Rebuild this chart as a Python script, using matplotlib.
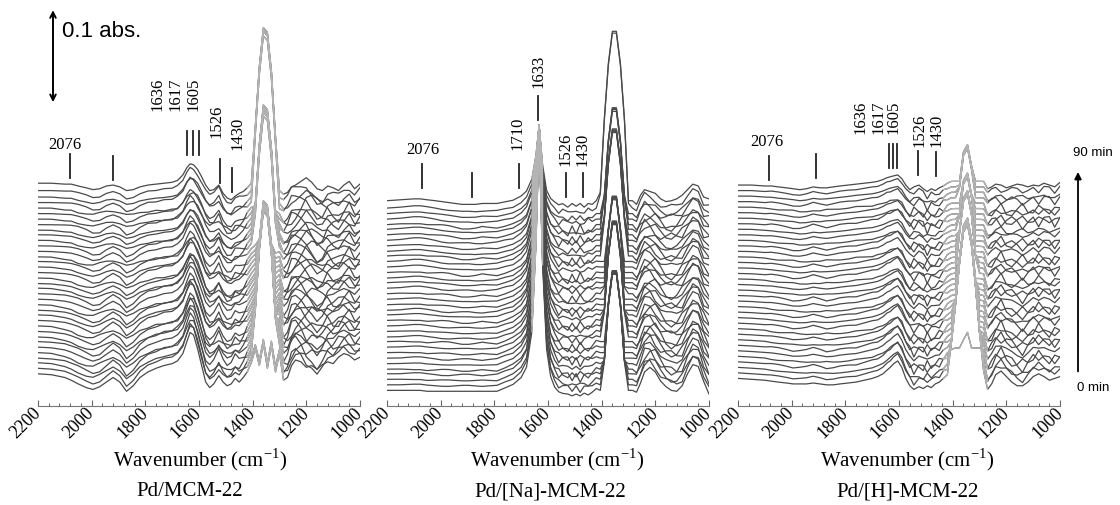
import numpy as np
import matplotlib
matplotlib.use("Agg")
import matplotlib.pyplot as plt
from matplotlib.ticker import MultipleLocator

plt.rcParams['font.family'] = ['Liberation Serif', 'DejaVu Serif']
plt.rcParams['mathtext.fontset'] = 'custom'
plt.rcParams['mathtext.rm'] = 'Liberation Serif'

# knot wavenumbers (cm-1) shared by all spectra
WN = np.array([2200, 2150, 2100, 2076, 2050, 2020, 1995, 1970, 1945, 1920,
               1895, 1870, 1845, 1820, 1790, 1760, 1730, 1700, 1680, 1660,
               1645, 1633, 1620, 1605, 1590, 1575, 1560, 1545, 1526, 1510,
               1495, 1480, 1465, 1450, 1435, 1420, 1405, 1390, 1375, 1360,
               1345, 1330, 1315, 1300, 1285, 1270, 1255, 1240, 1220, 1200,
               1180, 1160, 1140, 1120, 1100, 1080, 1060, 1040, 1020, 1000])

# how far each of the 36 spectra (0 -> 90 min) is from the first to the last shape
MIX = [0.0, 0.05, 0.08, 0.12, 0.15, 0.2, 0.22, 0.26, 0.3, 0.33, 0.36, 0.4,
       0.42, 0.45, 0.5, 0.52, 0.55, 0.58, 0.6, 0.63, 0.66, 0.7, 0.72, 0.75,
       0.78, 0.8, 0.83, 0.85, 0.88, 0.9, 0.92, 0.94, 0.96, 0.97, 0.99, 1.0]
WIGGLE = [0.0, 0.6, -0.4, 0.9, -0.8, 0.3, 1.0, -0.6, 0.5, -1.0, 0.8, -0.2,
          0.7, -0.9, 0.4, 1.0, -0.5, 0.2, -0.8, 0.9, -0.3, 0.6, -1.0, 0.5,
          0.8, -0.7, 0.3, -0.4, 1.0, -0.6, 0.4, -0.9, 0.7, -0.2, 0.5, 0.0]

# ---- Pd/MCM-22 (absorbance in mAU) ----
P1_OFFSET = [35, 41, 47, 52, 58, 64, 70, 75, 81, 87, 93, 99, 104, 110, 116, 122, 128, 133,
             139, 145, 151, 157, 162, 168, 174, 180, 186, 191, 197, 203, 209, 215, 221, 227, 234, 242]
P1_EARLY = [0, -1, -4, -7, -11, -15, -17, -14, -9, -4,
            -9, -19, -13, -4, 2, 6, 9, 11, 14, 22,
            35, 45, 42, 27, 9, -9, -15, -11, -2, -9,
            -13, -11, -5, -9, -4, 2, 12, 27, 9, 33,
            6, 31, 2, 22, -7, -4, 9, 15, 13, 7,
            9, 5, 10, 13, 11, 18, 22, 20, 15, 18]
P1_LATE = [0, 0, -1, -1, -3, -5, -7, -6, -3, -2,
           -4, -8, -7, -4, -2, -1, 0, 1, 3, 9,
           17, 21, 20, 15, 7, -2, -8, -7, -2, -11,
           -16, -18, -14, -11, -9, -5, 0, 0, 0, 0,
           0, 0, -3, -8, -12, -10, -4, -2, 2, 6,
           1, -6, -8, -3, -5, -8, -2, 2, -6, -1]
P1_NOISE = [0, 0, 1, 1, 2, 1, -1, -2, 0, 2,
            1, -2, -1, 1, 3, 2, 4, 3, 5, 4,
            6, 8, 5, 2, 3, 6, 8, 10, 14, 9,
            6, 8, 12, 10, 6, 0, 0, 0, 0, 0,
            0, 0, 0, 0, 4, 10, 16, 12, 4, -6,
            -14, -18, -12, -2, 6, 10, 4, -4, 2, 8]
# depth of the ~1355 band contour below its apex
P1_DROP = [999] * 34 + [500, 330, 200, 110, 45, 3, 8, 50, 120, 220, 350, 500] + [999] * 14
P1_APEX = [0, 0, 214, 216, 218, 219, 220, 218, 217, 221, 219, 218, 220, 222, 219, 218, 221, 220,
           219, 223, 221, 222, 224, 226, 318, 322, 325, 327, 326, 328, 330, 327, 405, 410, 412, 414]

# ---- Pd/[Na]-MCM-22 ----
P2_OFFSET = [17, 23, 29, 35, 40, 46, 52, 58, 64, 70, 75, 81, 87, 93, 99, 104, 110, 116,
             122, 128, 134, 139, 145, 151, 157, 163, 168, 174, 180, 186, 192, 197, 203, 209, 215, 223]
P2_EARLY = [0, 0, 0, 0, -1, -1, -1, -1, -1, -1,
            -1, -1, -1, -1, -1, 0, 1, 3, 6, 9,
            6, 2, 0, -2, -4, -6, -7, -6, -4, -6,
            -4, -6, -3, -5, -2, 2, 0, 0, 0, 0,
            0, 0, 0, 0, 0, -2, 8, 20, 25, 20,
            10, 4, 0, -1, 5, 18, 28, 26, 10, -4]
P2_LATE = [0, 1, 2, 2, 1, 0, -1, -2, -3, -4,
           -4, -4, -3, -3, -3, -2, -1, 2, 5, 8,
           6, 4, 0, -2, -3, -4, -6, -4, -7, -3,
           -6, -3, -7, -3, -4, 0, 0, 0, 0, 0,
           0, 0, 0, 0, 0, -4, 6, 12, 10, 8,
           2, -1, 0, 2, 6, 12, 18, 16, 4, 2]
P2_NOISE = [0, 0, 1, 1, 1, 0, -1, -1, 0, 1,
            1, 0, -1, 0, 1, 1, 0, 1, 2, 2,
            0, 0, 0, 2, 4, 2, -3, 4, 6, -2,
            5, -4, 3, 6, 2, 0, 0, 0, 0, 0,
            0, 0, 0, 0, 0, 2, 6, 10, 4, -4,
            -2, 5, 8, 3, -3, 2, 6, 4, -2, 3]
# 1633 band: relative shape, scaled up to a common apex
P2_PEAK = [0] * 15 + [0.01, 0.02, 0.04, 0.07, 0.2, 0.55, 1.0, 0.5, 0.17, 0.07, 0.035, 0.02, 0.01] + [0] * 32
P2_PEAK_APEX = [292, 294, 295, 296, 297, 298, 298, 299, 300, 300, 301, 301, 302, 302, 302, 303, 303, 303,
                304, 304, 304, 304, 305, 305, 305, 305, 305, 305, 305, 305, 305, 305, 305, 305, 305, 305]
P2_DROP = [999] * 34 + [520, 320, 180, 100, 40, 5, 5, 40, 100, 190, 330, 520] + [999] * 14
P2_APEX = [148, 149, 150, 150, 151, 149, 152, 150, 151, 152,
           202, 203, 204, 203, 205, 204, 206, 205,
           229, 230, 231, 232, 231, 233, 232,
           302, 303, 304, 305, 306, 325, 327, 328, 329, 410, 412]

# ---- Pd/[H]-MCM-22 ----
P3_OFFSET = [30, 36, 42, 48, 54, 60, 66, 72, 78, 84, 90, 96, 102, 108, 114, 120, 126, 132,
             138, 144, 150, 156, 162, 168, 174, 180, 186, 192, 198, 204, 210, 216, 222, 228, 234, 240]
P3_EARLY = [0, -1, -2, -3, -4, -5, -6, -6, -6, -5,
            -6, -7, -7, -6, -5, -4, -2, 0, 2, 5,
            9, 12, 16, 19, 12, 0, -8, -12, -9, -11,
            -8, -10, -6, -4, 0, 4, 8, 10, 10, 10,
            10, 10, 10, 10, 8, -12, -6, 4, 8, 2,
            -4, -8, -8, -4, 2, 5, 2, -2, 0, 2]
P3_LATE = [0, 0, -1, -1, -2, -3, -4, -5, -4, -2,
           -3, -3, -2, -1, 0, 1, 2, 3, 4, 6,
           8, 9, 10, 11, 7, 0, -5, -2, 0, -4,
           -7, -4, -6, -3, -1, 2, 4, 4, 4, 4,
           4, 4, 4, 4, 4, -4, -2, 1, 0, -3,
           -1, 1, 0, -2, 0, -1, 2, 0, -2, 3]
P3_NOISE = [0, 0, 0, 1, 1, 0, -1, 0, 1, 2,
            1, -1, 0, 1, 1, 0, 1, 2, 1, 2,
            3, 2, 3, 4, 2, 4, 6, -3, 5, 7,
            -4, 5, 3, -2, 4, 0, 0, 0, 0, 0,
            0, 0, 0, 0, 0, 4, 8, 5, -4, 6,
            9, 3, -5, 4, 7, -3, 5, 8, -2, 4]
P3_DROP = [999] * 33 + [600, 300, 185, 130, 90, 45, 10, 2, 25, 70, 120, 170, 280, 600] + [999] * 13
P3_APEX = [199, 200, 201, 200, 82,
           200, 201, 202, 203, 202, 204, 203, 205, 204, 206, 205, 204, 206,
           232, 233, 234, 233, 235, 234, 236, 235,
           251, 252, 253, 254, 253, 255, 282, 283, 285, 286]

# band markers: (wavenumber, bottom in mAU) and labels: (text, wavenumber, y, rotation)
P1_MARKS = [(2081, 248), (1920, 246), (1645, 273), (1622, 273), (1600, 273), (1522, 242), (1477, 232)]
P1_TEXTS = [("2076", 2099, 284, 0), ("1636", 1753, 339, 90), ("1617", 1686, 339, 90),
            ("1605", 1622, 339, 90), ("1526", 1533, 309, 90), ("1430", 1458, 296, 90)]
P2_MARKS = [(2070, 237), (1883, 227), (1708, 237), (1637, 311), (1533, 227), (1470, 227)]
P2_TEXTS = [("2076", 2066, 278, 0), ("1710", 1712, 296, 90), ("1633", 1637, 364, 90),
            ("1526", 1533, 279, 90), ("1430", 1470, 279, 90)]
P3_MARKS = [(2084, 246), (1909, 248), (1637, 259), (1622, 259), (1607, 259), (1529, 251), (1462, 250)]
P3_TEXTS = [("2076", 2092, 287, 0), ("1636", 1742, 314, 90), ("1617", 1678, 314, 90),
            ("1605", 1619, 314, 90), ("1526", 1525, 300, 90), ("1430", 1462, 299, 90)]

DARK = '#4a4a4a'
LIGHT = '#b4b4b4'


def traces(offset, early, late, noise, peaks=(), bands=()):
    early, late, noise = np.array(early), np.array(late), np.array(noise)
    out = []
    for i in range(len(offset)):
        y = offset[i] + (1 - MIX[i]) * early + MIX[i] * late + WIGGLE[i] * noise
        for shape, apex in peaks:
            shape = np.array(shape)
            k = np.argmax(shape)
            y = y + max(apex[i] - y[k], 0) * shape
        for drop, apex in bands:
            y = np.maximum(y, apex[i] - np.array(drop))
        out.append(y)
    return out


def panel(rect, spectra, light, marks, texts, name, xlab_x, name_x):
    ax = fig.add_axes(rect)
    for y in spectra:
        ax.plot(WN, y, color=DARK, lw=0.9, zorder=2)
    for lo, hi in light:
        m = (WN >= lo) & (WN <= hi)
        for y in spectra:
            ax.plot(WN[m], y[m], color=LIGHT, lw=0.9, zorder=3)
    for wn, y0 in marks:
        ax.plot([wn, wn], [y0, y0 + 26], color='#222222', lw=1.3)
    for t, wn, y, rot in texts:
        ax.text(wn, y, t, rotation=rot, ha='center', va='center', fontsize=12)
    ax.set_xlim(2200, 1000)
    ax.set_ylim(0, 441)
    ax.set_xticks(np.arange(2200, 999, -200))
    ax.xaxis.set_minor_locator(MultipleLocator(40))
    ax.tick_params(axis='x', which='major', direction='in', length=4, width=0.8,
                   color='#666666', labelsize=13, pad=3)
    ax.tick_params(axis='x', which='minor', direction='in', length=2.5, width=0.7, color='#666666')
    ax.set_yticks([])
    for s in ['left', 'right', 'top']:
        ax.spines[s].set_visible(False)
    ax.spines['bottom'].set_color('#777777')
    plt.setp(ax.get_xticklabels(), rotation=45, ha='right', va='center', rotation_mode='anchor')
    ax.patch.set_alpha(0)
    fig.text(xlab_x, 0.089, 'Wavenumber (cm$^{\\mathregular{-1}}$)', ha='center', va='center', fontsize=15)
    fig.text(name_x, 0.026, name, ha='center', va='center', fontsize=15)
    return ax


fig = plt.figure(figsize=(11.2, 5.05), dpi=100)

s1 = traces(P1_OFFSET, P1_EARLY, P1_LATE, P1_NOISE, bands=[(P1_DROP, P1_APEX)])
s2 = traces(P2_OFFSET, P2_EARLY, P2_LATE, P2_NOISE, peaks=[(P2_PEAK, P2_PEAK_APEX)],
            bands=[(P2_DROP, P2_APEX)])
s3 = traces(P3_OFFSET, P3_EARLY, P3_LATE, P3_NOISE, bands=[(P3_DROP, P3_APEX)])

ax1 = panel([0.0339, 0.196, 0.2875, 0.804], s1, [(1285, 1420)], P1_MARKS, P1_TEXTS,
            'Pd/MCM-22', 0.1786, 0.169)
ax2 = panel([0.3455, 0.196, 0.2875, 0.804], s2, [(1620, 1660)], P2_MARKS, P2_TEXTS,
            'Pd/[Na]-MCM-22', 0.4973, 0.491)
ax3 = panel([0.659, 0.196, 0.2875, 0.804], s3, [(1270, 1435)], P3_MARKS, P3_TEXTS,
            'Pd/[H]-MCM-22', 0.8098, 0.810)

# 0.1 absorbance scale bar
ax1.annotate('', xy=(2144, 430), xytext=(2144, 330),
             arrowprops=dict(arrowstyle='<->', lw=1.4, color='black', shrinkA=0, shrinkB=0))
ax1.text(2110, 407, '0.1 abs.', ha='left', va='center', fontsize=16, family='Liberation Sans')

# time arrow
fig.patches.append(matplotlib.patches.FancyArrowPatch(
    (0.9625, 0.259), (0.9625, 0.665), transform=fig.transFigure,
    arrowstyle='-|>', mutation_scale=10, lw=1.3, color='black'))
fig.text(0.976, 0.697, '90 min', ha='center', va='center', fontsize=9.5, family='Liberation Sans')
fig.text(0.976, 0.232, '0 min', ha='center', va='center', fontsize=9.5, family='Liberation Sans')

fig.savefig('out.png', dpi=100, facecolor='white')
